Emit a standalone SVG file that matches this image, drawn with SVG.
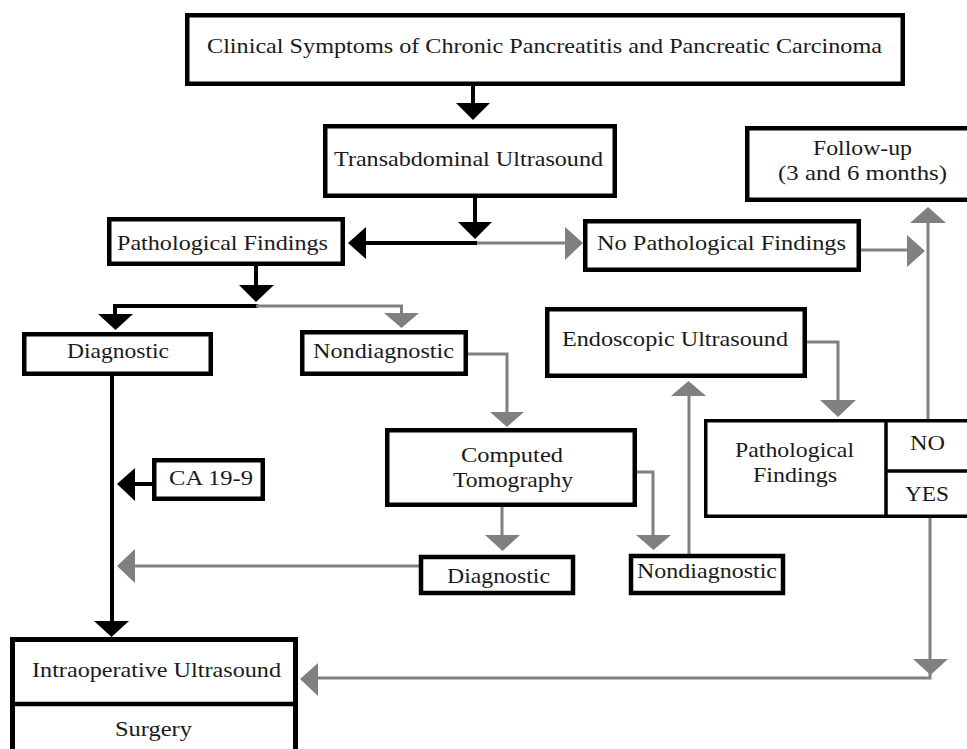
<svg xmlns="http://www.w3.org/2000/svg" width="967" height="749" viewBox="0 0 967 749">
<style>
.box{fill:#fff;stroke:#000;stroke-width:4.5}
.thin{fill:#fff;stroke:#000;stroke-width:3.5}
.t{font-family:'Liberation Serif','Times New Roman',serif;font-size:22px;fill:#1a1a1a;text-anchor:middle}
.bl{stroke:#000;stroke-width:4;fill:none}
.gl{stroke:#808080;stroke-width:3;fill:none}
.bh{fill:#000}
.gh{fill:#808080}
</style>
<rect width="967" height="749" fill="#fff"/>
<g id="connectors">
  <line class="bl" x1="473" y1="85" x2="473" y2="106"/>
  <polygon class="bh" points="456,103 490,103 473,120"/>
  <line class="bl" x1="475" y1="197" x2="475" y2="225"/>
  <polygon class="bh" points="458,222 492,222 475,239"/>
  <line class="bl" x1="477" y1="243" x2="362" y2="243"/>
  <polygon class="bh" points="348,243 366,227 366,259"/>
  <line class="bl" x1="256" y1="266" x2="256" y2="288"/>
  <polygon class="bh" points="239,285 274,285 256,302"/>
  <polyline class="bl" points="258,306 115,306 115,317"/>
  <polygon class="bh" points="98,314 133,314 115.5,330"/>
  <line class="bl" x1="112" y1="376" x2="112" y2="624"/>
  <polygon class="bh" points="94,621 129,621 111.5,637"/>
  <line class="bl" x1="152" y1="484" x2="132" y2="484"/>
  <polygon class="bh" points="117,484 135,468 135,501"/>
  <line class="gl" x1="477" y1="243" x2="568" y2="243"/>
  <polygon class="gh" points="583,243 565,227 565,260"/>
  <polyline class="gl" points="256,306 401.5,306 401.5,316"/>
  <polygon class="gh" points="384,313 419,313 401.5,328"/>
  <polyline class="gl" points="468,354 507,354 507,414"/>
  <polygon class="gh" points="490,412 524,412 507,427"/>
  <line class="gl" x1="502" y1="507" x2="502" y2="538"/>
  <polygon class="gh" points="485,535 520,535 502.5,551"/>
  <polyline class="gl" points="637,472 653,472 653,538"/>
  <polygon class="gh" points="636,535 671,535 653.5,550"/>
  <line class="gl" x1="689" y1="554" x2="689" y2="394"/>
  <polygon class="gh" points="671,396 706,396 688.5,381"/>
  <polyline class="gl" points="807,342 838,342 838,403"/>
  <polygon class="gh" points="820,400 856,400 838,417"/>
  <line class="gl" x1="928" y1="419" x2="928" y2="220"/>
  <polygon class="gh" points="910,223 946,223 928,207"/>
  <line class="gl" x1="861" y1="250" x2="909" y2="250"/>
  <polygon class="gh" points="907,235 907,267 925,251"/>
  <polyline class="gl" points="930,518 930,678 316,678"/>
  <polygon class="gh" points="913,659 948,659 930.5,675"/>
  <polygon class="gh" points="300,679 318,663 318,696"/>
  <line class="gl" x1="419" y1="566" x2="133" y2="566"/>
  <polygon class="gh" points="117,566 135,549 135,583"/>
</g>
<g id="n-title">
  <rect class="box" x="187.25" y="15.25" width="715.5" height="68.5"/>
  <text class="t" x="544.5" y="53" textLength="675" lengthAdjust="spacingAndGlyphs">Clinical Symptoms of Chronic Pancreatitis and Pancreatic Carcinoma</text>
</g>
<g id="n-transabdominal">
  <rect class="box" x="325.25" y="126.25" width="289.5" height="69.5"/>
  <text class="t" x="468.5" y="166" textLength="269" lengthAdjust="spacingAndGlyphs">Transabdominal Ultrasound</text>
</g>
<g id="n-followup">
  <rect class="box" x="747.25" y="128.25" width="240" height="71.5"/>
  <text class="t" x="862.5" y="155" textLength="99" lengthAdjust="spacingAndGlyphs">Follow-up</text>
  <text class="t" x="862.5" y="180" textLength="169" lengthAdjust="spacingAndGlyphs">(3 and 6 months)</text>
</g>
<g id="n-path">
  <rect class="box" x="109.25" y="219.25" width="233.5" height="44.5"/>
  <text class="t" x="222.5" y="250" textLength="211" lengthAdjust="spacingAndGlyphs">Pathological Findings</text>
</g>
<g id="n-nopath">
  <rect class="box" x="585.25" y="221.25" width="273.5" height="48.5"/>
  <text class="t" x="721.5" y="250" textLength="249" lengthAdjust="spacingAndGlyphs">No Pathological Findings</text>
</g>
<g id="n-diag1">
  <rect class="box" x="24.25" y="334.25" width="186.5" height="39.5"/>
  <text class="t" x="118" y="358" textLength="102" lengthAdjust="spacingAndGlyphs">Diagnostic</text>
</g>
<g id="n-nondiag1">
  <rect class="box" x="302.25" y="332.25" width="163.5" height="41.5"/>
  <text class="t" x="383.5" y="358" textLength="141" lengthAdjust="spacingAndGlyphs">Nondiagnostic</text>
</g>
<g id="n-eus">
  <rect class="box" x="547.25" y="309.25" width="257.5" height="66.5"/>
  <text class="t" x="675" y="346" textLength="226" lengthAdjust="spacingAndGlyphs">Endoscopic Ultrasound</text>
</g>
<g id="n-ct">
  <rect class="box" x="387.25" y="430.25" width="247.5" height="74.5"/>
  <text class="t" x="512" y="462" textLength="102" lengthAdjust="spacingAndGlyphs">Computed</text>
  <text class="t" x="513" y="487" textLength="120" lengthAdjust="spacingAndGlyphs">Tomography</text>
</g>
<g id="n-ca199">
  <rect class="box" x="154.25" y="460.25" width="108.5" height="38.5"/>
  <text class="t" x="211" y="485" textLength="84" lengthAdjust="spacingAndGlyphs">CA 19-9</text>
</g>
<g id="n-diag2">
  <rect class="box" x="421" y="557" width="152" height="36"/>
  <text class="t" x="498.5" y="583" textLength="103" lengthAdjust="spacingAndGlyphs">Diagnostic</text>
</g>
<g id="n-nondiag2">
  <rect class="box" x="631" y="556" width="152" height="37"/>
  <text class="t" x="707" y="578" textLength="140" lengthAdjust="spacingAndGlyphs">Nondiagnostic</text>
</g>
<g id="n-pathright">
  <rect class="thin" x="705.75" y="420.75" width="300" height="95.5"/>
  <line stroke="#000" stroke-width="3.5" x1="886" y1="419" x2="886" y2="518"/>
  <line stroke="#000" stroke-width="3.5" x1="886" y1="471" x2="967" y2="471"/>
  <text class="t" x="794.5" y="457" textLength="119" lengthAdjust="spacingAndGlyphs">Pathological</text>
  <text class="t" x="795" y="482" textLength="84" lengthAdjust="spacingAndGlyphs">Findings</text>
  <text class="t" x="927.5" y="450" textLength="35" lengthAdjust="spacingAndGlyphs">NO</text>
  <text class="t" x="927" y="501" textLength="44" lengthAdjust="spacingAndGlyphs">YES</text>
</g>
<g id="n-intraop">
  <rect class="box" x="12.5" y="639.5" width="283" height="160" style="stroke-width:5"/>
  <line stroke="#000" stroke-width="4.5" x1="10" y1="704" x2="298" y2="704"/>
  <text class="t" x="156.5" y="677" textLength="249" lengthAdjust="spacingAndGlyphs">Intraoperative Ultrasound</text>
  <text class="t" x="153.5" y="736" textLength="77" lengthAdjust="spacingAndGlyphs">Surgery</text>
</g>
</svg>
